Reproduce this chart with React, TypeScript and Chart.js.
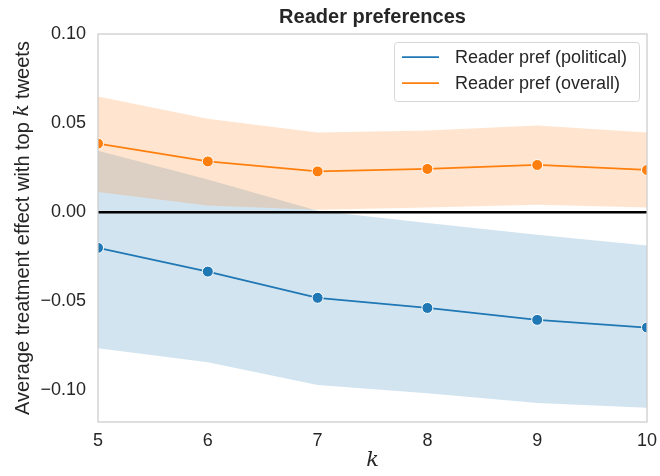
import { useEffect, useRef } from "react";
import { Chart, registerables } from "chart.js";

Chart.register(...registerables);

const kValues = [5, 6, 7, 8, 9, 10];
const politicalMean = [-0.02, -0.0333, -0.048, -0.0537, -0.0604, -0.0647];
const politicalUpper = [0.0345, 0.0183, 0.0008, -0.006, -0.0126, -0.0187];
const politicalLower = [-0.0763, -0.0842, -0.0969, -0.1015, -0.107, -0.1097];
const overallMean = [0.0385, 0.0285, 0.0229, 0.0243, 0.0265, 0.0237];
const overallUpper = [0.065, 0.0524, 0.0448, 0.0458, 0.0486, 0.0448];
const overallLower = [0.0113, 0.0038, 0.0014, 0.0027, 0.0042, 0.0027];
const yTicks = [-0.1, -0.05, 0.0, 0.05, 0.1];
const xTicks = [5, 6, 7, 8, 9, 10];
const seriesLabels = ["Reader pref (political)", "Reader pref (overall)"];
const titleText = "Reader preferences";
const yTitleParts = ["Average treatment effect with top ", "k", " tweets"];
const xTitleText = "k";

const BLUE = "#1f77b4";
const ORANGE = "#ff7f0e";
const TEXT = "#262626";
const SANS = '"Liberation Sans", Arial, sans-serif';
const SERIF = '"DejaVu Serif", serif';

const pts = (ys: number[]) => kValues.map((x, i) => ({ x, y: ys[i] }));

const decorPlugin = {
  id: "decor",
  afterDraw(chart: any) {
    const ctx = chart.ctx as CanvasRenderingContext2D;
    const a = chart.chartArea;
    ctx.save();
    // frame
    ctx.strokeStyle = "#cccccc";
    ctx.lineWidth = 1.25;
    ctx.strokeRect(a.left, a.top, a.right - a.left, a.bottom - a.top);

    ctx.fillStyle = TEXT;
    ctx.textAlign = "center";
    ctx.textBaseline = "middle";
    // title
    ctx.font = `bold 20px ${SANS}`;
    ctx.fillText(titleText, (a.left + a.right) / 2, 17);
    // x title
    ctx.font = `italic 21px ${SERIF}`;
    ctx.fillText(xTitleText, (a.left + a.right) / 2, 461);

    // y title with italic k
    const fonts = [`20px ${SANS}`, `italic 20px ${SERIF}`, `20px ${SANS}`];
    const widths = yTitleParts.map((p, i) => {
      ctx.font = fonts[i];
      return ctx.measureText(p).width;
    });
    const total = widths.reduce((s, w) => s + w, 0);
    ctx.save();
    ctx.translate(23, (a.top + a.bottom) / 2);
    ctx.rotate(-Math.PI / 2);
    ctx.textAlign = "left";
    let cx = -total / 2;
    yTitleParts.forEach((p, i) => {
      ctx.font = fonts[i];
      ctx.fillText(p, cx, 0);
      cx += widths[i];
    });
    ctx.restore();

    // legend
    const bx = 394, by = 42, bw = 245, bh = 59;
    ctx.fillStyle = "rgba(255,255,255,0.8)";
    ctx.strokeStyle = "#d6d6d6";
    ctx.lineWidth = 1;
    ctx.beginPath();
    (ctx as any).roundRect(bx + 0.5, by + 0.5, bw, bh, 3);
    ctx.fill();
    ctx.stroke();
    const colors = [BLUE, ORANGE];
    const rowsY = [57, 83];
    ctx.font = `18px ${SANS}`;
    ctx.textAlign = "left";
    ctx.textBaseline = "middle";
    seriesLabels.forEach((lab, i) => {
      ctx.strokeStyle = colors[i];
      ctx.lineWidth = 1.75;
      ctx.beginPath();
      ctx.moveTo(402, rowsY[i]);
      ctx.lineTo(439, rowsY[i]);
      ctx.stroke();
      ctx.fillStyle = TEXT;
      ctx.fillText(lab, 455, rowsY[i] + 1);
    });
    ctx.restore();
  },
};

export default function App() {
  const ref = useRef<HTMLCanvasElement | null>(null);
  useEffect(() => {
    if (!ref.current) return;
    Chart.defaults.font.family = SANS;
    const lineDs = (label: string, data: number[], color: string) => ({
      label,
      data: pts(data),
      borderColor: color,
      backgroundColor: color,
      borderWidth: 1.75,
      pointRadius: 5.5,
      pointBackgroundColor: color,
      pointBorderColor: "#ffffff",
      pointBorderWidth: 1,
      fill: false,
      clip: 0,
    });
    const bandDs = (data: number[], fill: any, color: string) => ({
      label: "",
      data: pts(data),
      borderColor: "rgba(0,0,0,0)",
      borderWidth: 0,
      pointRadius: 0,
      fill,
      backgroundColor: color,
      clip: 0,
    });
    const chart = new Chart(ref.current, {
      type: "line",
      data: {
        datasets: [
          lineDs(seriesLabels[1], overallMean, ORANGE),
          lineDs(seriesLabels[0], politicalMean, BLUE),
          {
            label: "",
            data: [
              { x: kValues[0], y: 0 },
              { x: kValues[kValues.length - 1], y: 0 },
            ],
            borderColor: "#000000",
            borderWidth: 2.5,
            pointRadius: 0,
            fill: false,
            clip: 0,
          },
          bandDs(overallUpper, "+1", "rgba(255,127,14,0.2)"),
          bandDs(overallLower, false, "rgba(255,127,14,0.2)"),
          bandDs(politicalUpper, "+1", "rgba(31,119,180,0.2)"),
          bandDs(politicalLower, false, "rgba(31,119,180,0.2)"),
        ] as any,
      },
      options: {
        animation: false,
        responsive: false,
        devicePixelRatio: 1,
        layout: { padding: { top: 34, right: 13, bottom: 0, left: 0 } },
        plugins: {
          legend: { display: false },
          title: { display: false },
          tooltip: { enabled: false },
        },
        scales: {
          x: {
            type: "linear",
            min: 5,
            max: 10,
            grid: { display: false, drawTicks: false },
            border: { display: false },
            afterBuildTicks: (s: any) => {
              s.ticks = xTicks.map((v) => ({ value: v }));
            },
            afterFit: (s: any) => {
              s.height = 54;
              s.paddingLeft = 0;
              s.paddingRight = 0;
            },
            ticks: {
              color: TEXT,
              font: { size: 18, family: SANS },
              padding: 8,
              maxRotation: 0,
              callback: (v: any) => String(v),
            },
          },
          y: {
            type: "linear",
            min: -0.1177,
            max: 0.1,
            grid: { display: false, drawTicks: false },
            border: { display: false },
            afterBuildTicks: (s: any) => {
              s.ticks = yTicks.map((v) => ({ value: v }));
            },
            afterFit: (s: any) => {
              s.width = 98;
            },
            ticks: {
              color: TEXT,
              font: { size: 18, family: SANS },
              padding: 12,
              callback: (v: any) => {
                const n = Number(v);
                const s = Math.abs(n).toFixed(2);
                return n < -1e-9 ? "\u2212" + s : s;
              },
            },
          },
        },
      },
      plugins: [decorPlugin],
    });
    return () => chart.destroy();
  }, []);
  return (
    <div style={{ position: "absolute", left: 0, top: 0, width: 660, height: 476, background: "#ffffff" }}>
      <canvas ref={ref} width={660} height={476} />
    </div>
  );
}
